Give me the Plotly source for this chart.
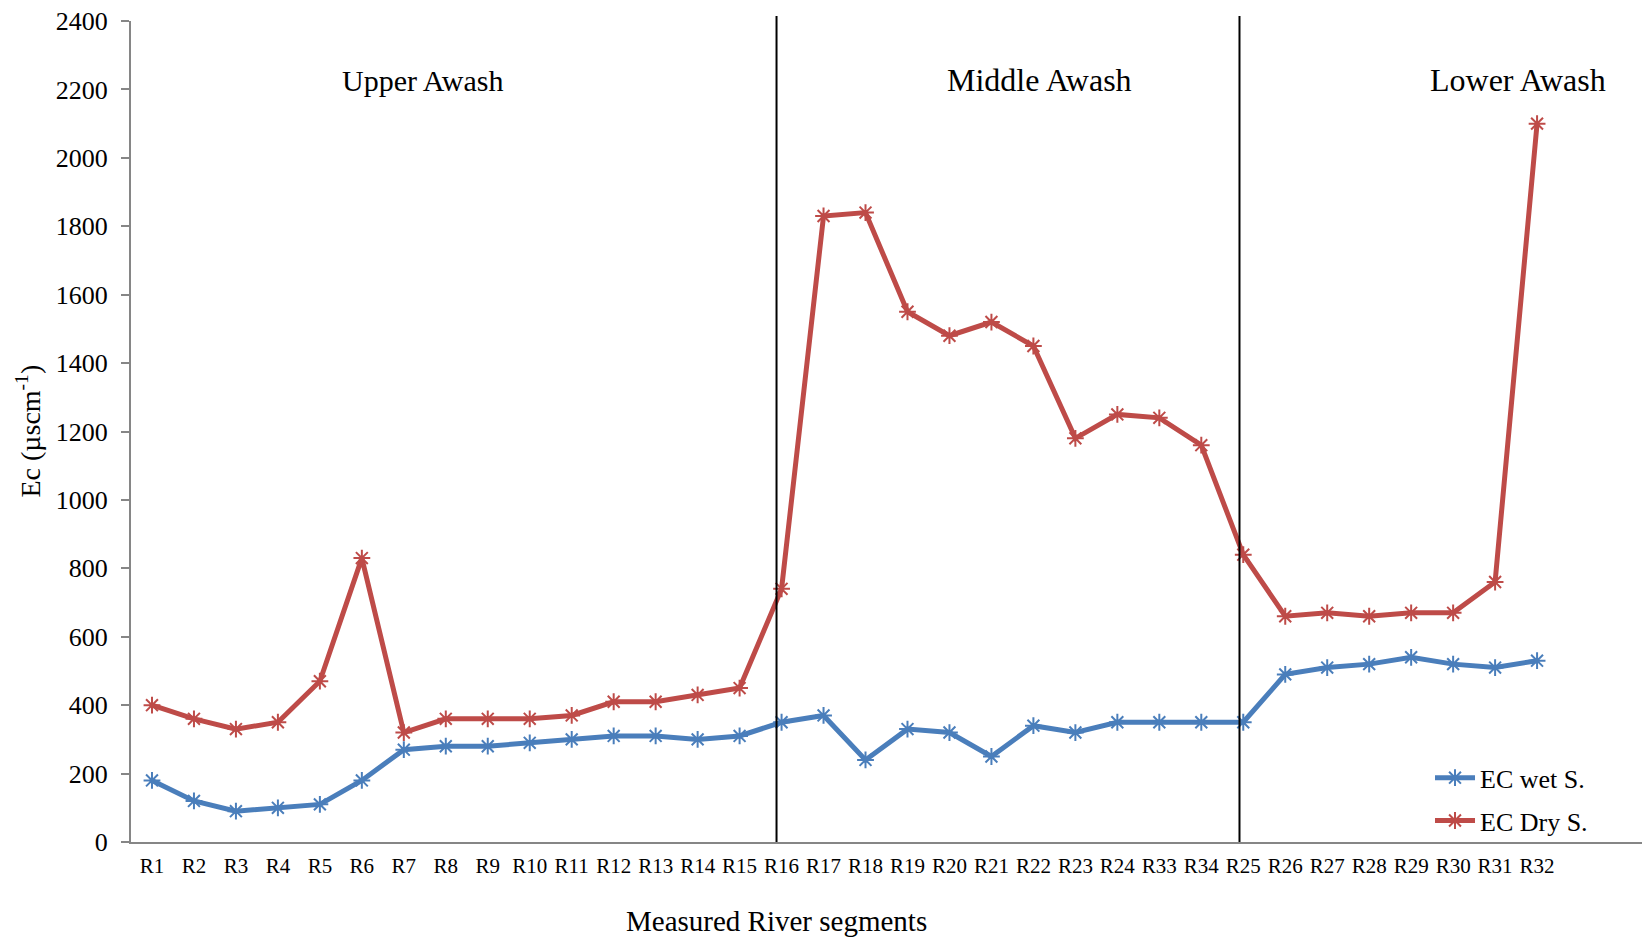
import plotly.graph_objects as go

# River segment labels, in sampling order along the Awash
segments = ["R1", "R2", "R3", "R4", "R5", "R6", "R7", "R8", "R9", "R10", "R11",
            "R12", "R13", "R14", "R15", "R16", "R17", "R18", "R19", "R20", "R21",
            "R22", "R23", "R24", "R33", "R34", "R25", "R26", "R27", "R28", "R29",
            "R30", "R31", "R32"]

# Electrical conductivity (µS/cm)
ec_wet = [180, 120, 90, 100, 110, 180, 270, 280, 280, 290, 300,
          310, 310, 300, 310, 350, 370, 240, 330, 320, 250,
          340, 320, 350, 350, 350, 350, 490, 510, 520, 540,
          520, 510, 530]
ec_dry = [400, 360, 330, 350, 470, 830, 320, 360, 360, 360, 370,
          410, 410, 430, 450, 740, 1830, 1840, 1550, 1480, 1520,
          1450, 1180, 1250, 1240, 1160, 840, 660, 670, 660, 670,
          670, 760, 2100]

# Reach boundaries (category positions) and reach names
reach_bounds = [14.88, 25.91]
reach_names = ["Upper Awash", "Middle Awash", "Lower Awash"]
reach_label_x = [0.1926, 0.6014, 0.9179]
reach_label_size = [30, 32, 32]

y_ticks = list(range(0, 2401, 200))

FONT = "Liberation Serif"
BLUE = "#4A7EBB"
RED = "#BE4B48"
AXIS = "#868686"

fig = go.Figure()

xs = list(range(len(segments)))

fig.add_trace(go.Scatter(
    x=xs, y=ec_wet, name="EC wet S.", mode="lines+markers",
    legendgroup="wet",
    line=dict(color=BLUE, width=5),
    marker=dict(symbol="asterisk-open", size=14, color=BLUE,
                line=dict(color=BLUE, width=2)),
))
fig.add_trace(go.Scatter(
    x=xs, y=ec_dry, name="EC Dry S.", mode="lines+markers",
    legendgroup="dry",
    line=dict(color=RED, width=5),
    marker=dict(symbol="asterisk-open", size=14, color=RED,
                line=dict(color=RED, width=2)),
))

# Vertical separators between the three reaches
for xb in reach_bounds:
    fig.add_shape(type="line", xref="x", yref="paper",
                  x0=xb, x1=xb, y0=0, y1=1.006,
                  line=dict(color="black", width=2))

for name, px, fs in zip(reach_names, reach_label_x, reach_label_size):
    fig.add_annotation(text=name, xref="paper", yref="paper",
                       x=px, y=0.928, showarrow=False,
                       xanchor="center", yanchor="middle",
                       font=dict(family=FONT, size=fs, color="black"))

# Axis titles
fig.add_annotation(text="Measured River segments", xref="paper", yref="paper",
                   x=0.427, y=-0.096, showarrow=False,
                   xanchor="center", yanchor="middle",
                   font=dict(family=FONT, size=29, color="black"))
fig.add_annotation(text="Ec (µscm<sup>-1</sup>)", xref="paper", yref="paper",
                   x=-0.0675, y=0.5, showarrow=False, textangle=-90,
                   xanchor="center", yanchor="middle",
                   font=dict(family=FONT, size=28, color="black"))

fig.update_layout(
    width=1642, height=939,
    margin=dict(l=131, r=0, t=21, b=97),
    paper_bgcolor="white", plot_bgcolor="white",
    font=dict(family=FONT, color="black"),
    showlegend=True,
    legend=dict(x=0.8597, y=0.052, xanchor="left", yanchor="middle",
                bgcolor="rgba(0,0,0,0)", borderwidth=0,
                font=dict(family=FONT, size=26, color="black"),
                itemwidth=40, tracegroupgap=6),
)

fig.update_xaxes(
    range=[-0.5, 35.5],
    tickmode="array", tickvals=xs, ticktext=segments,
    showgrid=False, zeroline=False,
    showline=True, linecolor=AXIS, linewidth=2,
    ticks="", ticklabelstandoff=4,
    tickfont=dict(family=FONT, size=21, color="black"),
)

fig.update_yaxes(
    range=[0, 2400],
    tickmode="array", tickvals=y_ticks,
    showgrid=False, zeroline=False,
    showline=True, linecolor=AXIS, linewidth=2,
    ticks="outside", ticklen=8, tickwidth=2, tickcolor=AXIS,
    ticklabelstandoff=8,
    tickfont=dict(family=FONT, size=26, color="black"),
)

fig.write_html("out.html")
